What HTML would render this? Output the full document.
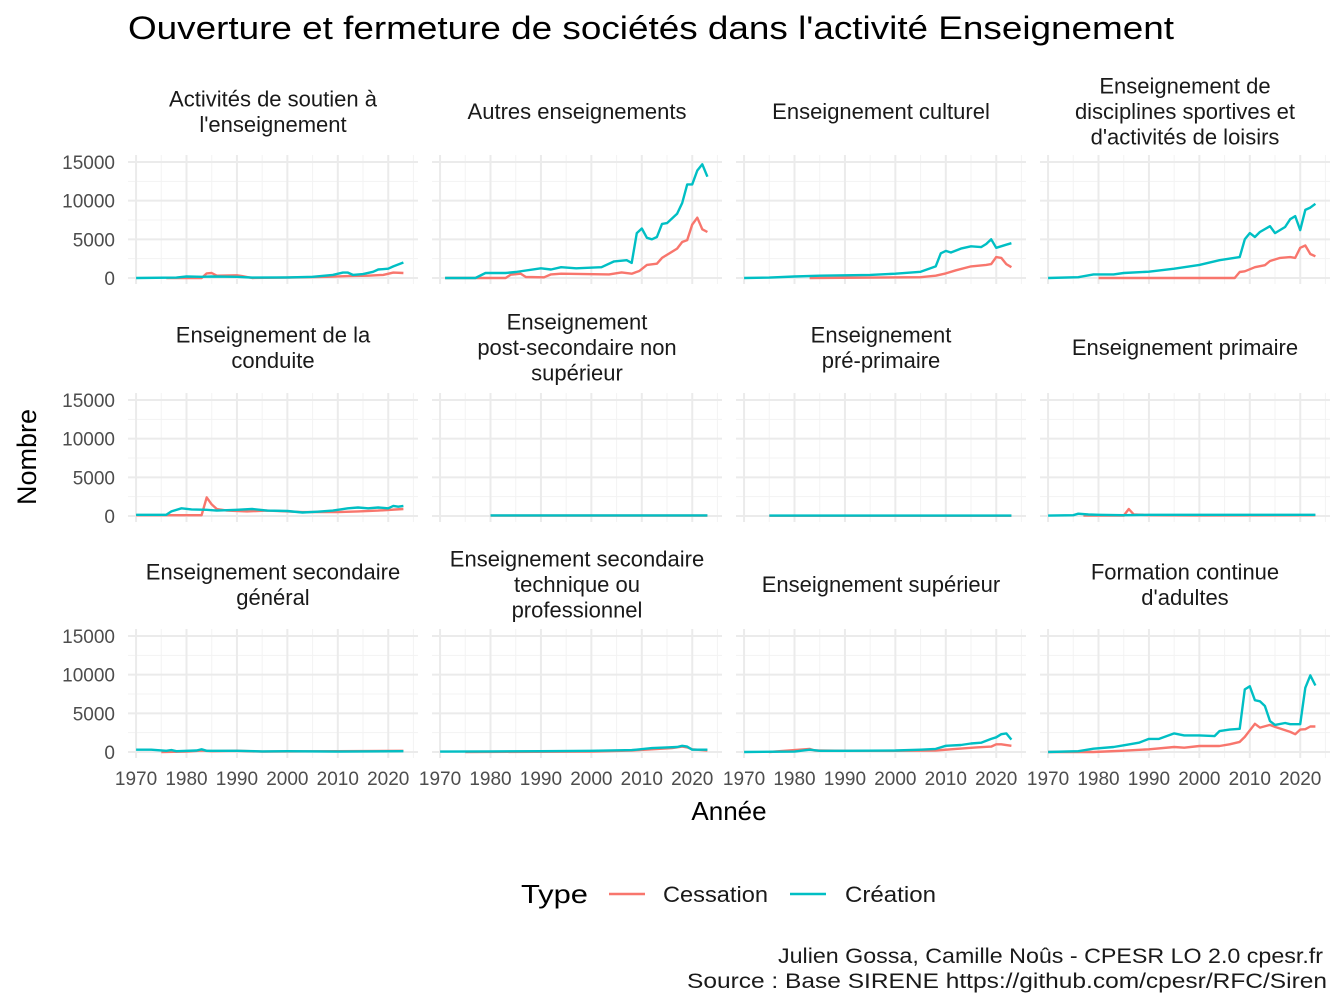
<!DOCTYPE html>
<html><head><meta charset="utf-8">
<style>
html,body{margin:0;padding:0;background:#fff;}
svg{display:block;font-family:"Liberation Sans",sans-serif;}
</style></head>
<body>
<svg id="chart" width="1344" height="1008" viewBox="0 0 1344 1008">
<text x="128" y="39" font-size="32" fill="#000" textLength="1046" lengthAdjust="spacingAndGlyphs">Ouverture et fermeture de sociétés dans l'activité Enseignement</text>
<text x="36" y="457" font-size="27" fill="#000" transform="rotate(-90 36 457)" text-anchor="middle">Nombre</text>
<text x="729" y="820" font-size="26" fill="#000" text-anchor="middle">Année</text>
<g>
<text x="521" y="903" font-size="26" fill="#000" textLength="67" lengthAdjust="spacingAndGlyphs">Type</text>
<line x1="609" y1="894" x2="645" y2="894" stroke="#F8766D" stroke-width="2.5"/>
<text x="663" y="902" font-size="22" fill="#1a1a1a" textLength="105" lengthAdjust="spacingAndGlyphs">Cessation</text>
<line x1="790" y1="894" x2="826" y2="894" stroke="#00BFC4" stroke-width="2.5"/>
<text x="845" y="902" font-size="22" fill="#1a1a1a" textLength="91" lengthAdjust="spacingAndGlyphs">Création</text>
</g>
<text x="778" y="963" font-size="21" fill="#1a1a1a" textLength="545" lengthAdjust="spacingAndGlyphs">Julien Gossa, Camille Noûs - CPESR LO 2.0 cpesr.fr</text>
<text x="687" y="988" font-size="21" fill="#1a1a1a" textLength="640" lengthAdjust="spacingAndGlyphs">Source : Base SIRENE https://github.com/cpesr/RFC/Siren</text>
<g id="panels"></g>
</svg>
<script>
const panelTitles = [
 ["Activités de soutien à","l'enseignement"],["Autres enseignements"],["Enseignement culturel"],["Enseignement de","disciplines sportives et","d'activités de loisirs"],
 ["Enseignement de la","conduite"],["Enseignement","post-secondaire non","supérieur"],["Enseignement","pré-primaire"],["Enseignement primaire"],
 ["Enseignement secondaire","général"],["Enseignement secondaire","technique ou","professionnel"],["Enseignement supérieur"],["Formation continue","d'adultes"]
];
const xTicks = [1970,1980,1990,2000,2010,2020];
const xTickLabels = ["1970","1980","1990","2000","2010","2020"];
const yTicks = [0,5000,10000,15000];
const yTickLabels = ["0","5000","10000","15000"];
const creaYears = [
 [1970,1978,1980,1983,1985,1990,1993,2000,2005,2009,2011,2012,2013,2015,2017,2018,2020,2021,2023],
 [1971,1977,1979,1983,1985,1990,1992,1994,1997,2002,2004.5,2007,2008,2009,2010,2011,2012,2013,2014,2015,2017,2018,2019,2020,2021,2022,2023],
 [1970,1975,1980,1985,1990,1995,2000,2005,2008,2009,2010,2011,2013,2015,2017,2018,2019,2020,2022,2023],
 [1970,1976,1979,1983,1985,1990,1995,2000,2004,2008,2009,2010,2011,2012,2014,2015,2017,2018,2019,2020,2021,2022,2023],
 [1970,1976,1977,1979,1981,1984,1986,1990,1993,1996,2000,2003,2006,2009,2012,2014,2016,2018,2020,2021,2022,2023],
 [1980,1990,2000,2010,2023],
 [1975,1990,2000,2010,2023],
 [1970,1975,1976,1978,1980,1985,1990,2000,2010,2023],
 [1970,1973,1976,1977,1978,1982,1983,1984,1990,1995,2000,2010,2023],
 [1970,1980,1990,2000,2008,2012,2015,2017,2018,2019,2020,2023],
 [1970,1980,1983,1985,1990,2000,2005,2008,2010,2013,2015,2017,2019,2020,2021,2022,2023],
 [1970,1976,1979,1983,1985,1988,1990,1992,1995,1997,2000,2003,2004,2006,2008,2009,2010,2011,2012,2013,2014,2015,2017,2018,2020,2021,2022,2023]
];
const creaVals = [
 [0,50,200,150,200,150,50,80,150,400,700,700,400,500,800,1100,1200,1500,2000],
 [0,0,650,650,780,1250,1100,1400,1250,1400,2150,2300,1950,5800,6400,5200,5000,5300,7000,7100,8300,9700,12100,12100,13900,14700,13100],
 [0,50,200,300,350,400,550,800,1500,3200,3500,3300,3800,4100,4000,4400,5000,3900,4300,4500],
 [0,100,470,470,650,820,1200,1700,2300,2700,5000,5800,5300,5950,6700,5800,6600,7600,8000,6200,8800,9100,9600],
 [150,150,600,1000,850,800,700,800,900,700,650,450,550,700,1000,1100,1000,1100,1000,1300,1200,1300],
 [80,80,80,80,80],
 [50,50,50,50,50],
 [50,100,300,200,150,100,150,150,150,150],
 [300,300,150,250,100,200,350,150,150,80,100,50,100],
 [50,80,100,150,250,500,600,650,800,700,300,300],
 [0,50,300,150,150,200,300,400,800,900,1100,1200,1700,1900,2300,2400,1600],
 [0,100,430,650,860,1200,1700,1700,2400,2150,2150,2050,2700,2900,3000,8100,8500,6700,6550,5950,4000,3500,3750,3600,3600,8300,9900,8600]
];
const cessYears = [
 [1976,1983,1984,1985,1986,1990,1991,1993,2000,2008,2012,2016,2019,2021,2023],
 [1971,1983,1984,1986,1987,1990.6,1992,1994,2003.5,2006,2008,2009.5,2011,2013,2014,2017,2018,2019,2020,2021,2022,2023],
 [1983,2005,2008,2010,2012,2015,2018,2019,2020,2021,2022,2023],
 [1980,2007,2008,2009,2011,2013,2014,2016,2018,2019,2020,2021,2022,2023],
 [1970,1983,1984,1985,1986,1988,1992,1996,2000,2003,2006,2010,2014,2018,2023],
 [1980,1990,2000,2010,2023],
 [1975,1990,2000,2010,2023],
 [1977,1985,1986,1987,1990,2000,2023],
 [1975,1980,1983,1985,1990,1995,2010,2023],
 [1975,2000,2008,2012,2016,2018,2019,2020,2023],
 [1975,1983,1984,1990,2000,2008,2012,2016,2019,2020,2021,2023],
 [1970,1979,1985,1990,1995,1997,2000,2004,2006,2008,2009,2011,2012,2014,2015,2018,2019,2020,2021,2022,2023]
];
const cessVals = [
 [0,0,600,650,300,350,250,0,50,150,250,300,400,700,650],
 [0,0,430,560,130,90,470,560,470,730,560,900,1700,1850,2600,3800,4650,4900,6900,7800,6300,5950],
 [0,100,300,600,1000,1500,1700,1800,2700,2600,1800,1400],
 [0,0,780,860,1400,1650,2200,2600,2700,2600,3900,4200,3100,2800],
 [100,100,2400,1500,900,700,600,700,600,500,500,500,600,700,900],
 [50,50,50,50,50],
 [40,40,40,40,40],
 [50,50,900,200,100,80,100],
 [0,50,200,100,150,50,100,150],
 [0,50,200,350,500,700,600,350,200],
 [0,400,200,150,150,200,400,600,700,1000,1000,800],
 [0,0,170,350,650,560,780,780,1000,1300,1950,3650,3150,3500,3250,2600,2300,2900,2950,3300,3300]
];
const NS="http://www.w3.org/2000/svg";
const g=document.getElementById('panels');
const colLeft=c=>128+304*c, panelW=290;
const rowZero=[278,516,752];
const xMin=1968.4, xMax=2025.9;
function el(t,a){const e=document.createElementNS(NS,t);for(const k in a)e.setAttribute(k,a[k]);return e;}
for(let p=0;p<12;p++){
  const r=Math.floor(p/4), c=p%4, L=colLeft(c), z=rowZero[r];
  const xs=yr=>L+(yr-xMin)/(xMax-xMin)*panelW;
  const ys=v=>z-v*116/15000;
  const pg=el('g',{});
  
  
  g.appendChild(pg);
  const top=ys(15000)-7, bot=z+6;
  for(let yv=2500;yv<=12500;yv+=5000){const l=el('line',{x1:L,x2:L+panelW,y1:ys(yv),y2:ys(yv),stroke:'#f3f3f3','stroke-width':1});pg.appendChild(l);}
  for(let xv=1975;xv<=2025;xv+=10){const l=el('line',{x1:xs(xv),x2:xs(xv),y1:top,y2:bot,stroke:'#f3f3f3','stroke-width':1});pg.appendChild(l);}
  yTicks.forEach((yv,i)=>{const l=el('line',{x1:L,x2:L+panelW,y1:ys(yv),y2:ys(yv),stroke:'#ebebeb','stroke-width':2});pg.appendChild(l);
    if(c===0){const t=el('text',{x:115,y:ys(yv)+7,'font-size':19,fill:'#4d4d4d','text-anchor':'end'});t.textContent=yTickLabels[i];pg.appendChild(t);}});
  xTicks.forEach((xv,i)=>{const l=el('line',{x1:xs(xv),x2:xs(xv),y1:top,y2:bot,stroke:'#ebebeb','stroke-width':2});pg.appendChild(l);
    if(r===2){const t=el('text',{x:xs(xv),y:785,'font-size':19,fill:'#4d4d4d','text-anchor':'middle'});t.textContent=xTickLabels[i];pg.appendChild(t);}});
  const lines=panelTitles[p], cx=L+panelW/2;
  const baseY=[111,347,584][r]+8;
  lines.forEach((s,i)=>{const t=el('text',{x:cx,y:baseY+(i-(lines.length-1)/2)*25.5,'font-size':22,fill:'#1a1a1a','text-anchor':'middle'});t.textContent=s;pg.appendChild(t);});
  const mk=(yrs,vals,col,name)=>{const d=yrs.map((y,i)=>(i?'L':'M')+xs(y).toFixed(1)+','+ys(vals[i]).toFixed(1)).join('');
    const pa=el('path',{d:d,fill:'none',stroke:col,'stroke-width':2.4,'stroke-linejoin':'round'});pg.appendChild(pa);};
  mk(cessYears[p],cessVals[p],'#F8766D','line-cessation');
  mk(creaYears[p],creaVals[p],'#00BFC4','line-creation');
}
</script>
</body></html>
